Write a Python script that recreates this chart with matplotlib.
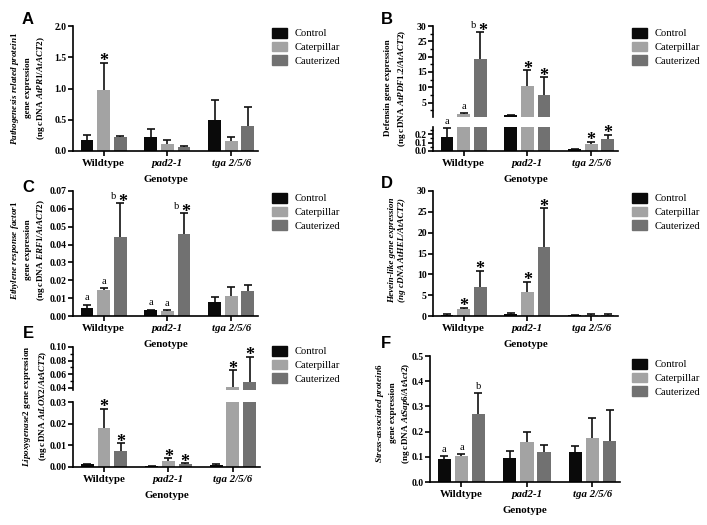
import numpy as np
import matplotlib
matplotlib.use('Agg')
import matplotlib.pyplot as plt
from matplotlib.patches import Patch
from matplotlib.ticker import MultipleLocator, FormatStrFormatter

plt.rcParams['font.family'] = ['Liberation Serif', 'DejaVu Serif']
plt.rcParams['font.weight'] = 'bold'
plt.rcParams['mathtext.fontset'] = 'custom'
plt.rcParams['mathtext.rm'] = 'Liberation Serif:bold'
plt.rcParams['mathtext.it'] = 'Liberation Serif:italic:bold'
plt.rcParams['mathtext.bf'] = 'Liberation Serif:bold'

genotypes = ['Wildtype', 'pad2-1', 'tga 2/5/6']
treatments = ['Control', 'Caterpillar', 'Cauterized']
colors = ['#0a0a0a', '#a3a3a3', '#717171']

# rows: Control, Caterpillar, Cauterized ; columns: genotypes
pr1_mean = [[0.18, 0.23, 0.49], [0.98, 0.12, 0.16], [0.22, 0.06, 0.40]]
pr1_err = [[0.07, 0.12, 0.32], [0.43, 0.05, 0.06], [0.02, 0.015, 0.30]]
pr1_marks = [['', '', ''], ['*', '', ''], ['', '', '']]

pdf_mean = [[0.17, 0.9, 0.02], [1.2, 10.4, 0.08], [19.2, 7.5, 0.14]]
pdf_err = [[0.10, 0.05, 0.0], [0.3, 5.2, 0.03], [8.7, 5.8, 0.05]]
pdf_marks = [['a', '', ''], ['a', '*', '*'], ['b*', '*', '*']]

erf_mean = [[0.0046, 0.0031, 0.0077], [0.0145, 0.0026, 0.0112], [0.0445, 0.0458, 0.0140]]
erf_err = [[0.0018, 0.0005, 0.0031], [0.0011, 0.0005, 0.0050], [0.0187, 0.0117, 0.0035]]
erf_marks = [['a', 'a', ''], ['a', 'a', ''], ['b*', 'b*', '']]

hel_mean = [[0.35, 0.55, 0.2], [1.8, 5.8, 0.35], [7.0, 16.6, 0.3]]
hel_err = [[0.05, 0.1, 0.05], [0.15, 2.4, 0.1], [3.8, 9.2, 0.1]]
hel_marks = [['', '', ''], ['*', '*', ''], ['*', '*', '']]

lox_mean = [[0.0012, 0.0003, 0.0010], [0.0180, 0.0030, 0.0410], [0.0075, 0.0015, 0.0490]]
lox_err = [[0.0002, 0.0001, 0.0002], [0.0090, 0.0010, 0.0250], [0.0035, 0.0003, 0.0370]]
lox_marks = [['', '', ''], ['*', '*', '*'], ['*', '*', '*']]

sap_mean = [[0.093, 0.097, 0.120], [0.103, 0.160, 0.175], [0.268, 0.120, 0.162]]
sap_err = [[0.010, 0.028, 0.023], [0.008, 0.040, 0.078], [0.085, 0.025, 0.125]]
sap_marks = [['a', '', ''], ['a', '', ''], ['b', '', '']]

W, H = 707, 525
fig = plt.figure(figsize=(W / 100, H / 100), dpi=100)

def rect(l, r, t, b):
    return [l / W, 1 - b / H, (r - l) / W, (b - t) / H]

x = np.arange(3)
offsets = [-0.26, 0, 0.26]
width = 0.2


def draw(ax, mean, err, marks, ylim):
    ax.set_ylim(*ylim)
    for i in range(3):
        xs = x + offsets[i]
        ax.bar(xs, mean[i], width, color=colors[i], zorder=2)
        cont = ax.errorbar(xs, mean[i], yerr=[np.zeros(3), err[i]], fmt='none',
                           ecolor='#111111', elinewidth=1.2, capsize=2.8, capthick=1.2,
                           zorder=1)
        # keep only upper caps that fall inside this axis
        for cap in cont[1]:
            y = np.asarray(cap.get_ydata(), dtype=float)
            if np.allclose(y, mean[i]):
                cap.remove()
                continue
            cap.set_ydata(np.where((y < ylim[0]) | (y > ylim[1]), np.nan, y))
        for j in range(3):
            top = mean[i][j] + err[i][j]
            m = marks[i][j]
            if not m or not (ylim[0] <= top <= ylim[1]):
                continue
            letter = m.replace('*', '')
            if '*' in m:
                ax.annotate('*', (xs[j], top), xytext=(1.5 if letter else 0, -2.5),
                            textcoords='offset points', ha='center', va='baseline',
                            fontsize=13, fontweight='bold', annotation_clip=False)
            if letter:
                ax.annotate(letter, (xs[j], top), xytext=(-5 if '*' in m else 0, 1.5),
                            textcoords='offset points', ha='center', va='bottom',
                            fontsize=7.5, fontweight='normal', annotation_clip=False)


def style(ax, bottom=True, xlabel=True):
    ax.patch.set_visible(False)
    for s in ['top', 'right']:
        ax.spines[s].set_visible(False)
    ax.spines['left'].set_linewidth(1.2)
    ax.tick_params(axis='y', which='major', length=3.5, width=1.2, labelsize=7, pad=1)
    ax.tick_params(axis='y', which='minor', length=2, width=1.0)
    ax.set_xlim(-0.48, 2.42)
    if bottom:
        ax.spines['bottom'].set_linewidth(1.2)
        ax.set_xticks(x)
        ax.set_xticklabels(genotypes)
        for k, lab in enumerate(ax.get_xticklabels()):
            if k > 0:
                lab.set_fontstyle('italic')
        ax.tick_params(axis='x', length=3.5, width=1.2, labelsize=7.8, pad=2)
        if xlabel:
            ax.set_xlabel('Genotype', fontsize=7.8, fontweight='bold', labelpad=5)
    else:
        ax.spines['bottom'].set_visible(False)
        ax.set_xticks([])


def legend(xp, yp):
    handles = [Patch(color=c) for c in colors]
    fig.legend(handles, treatments, loc='upper left', bbox_to_anchor=(xp / W, 1 - yp / H),
               frameon=False, prop={'size': 7.6, 'weight': 'normal'}, handlelength=1.45,
               handleheight=1.05, labelspacing=0.3, handletextpad=0.65,
               borderpad=0, borderaxespad=0)


def ylabel(xp, yp, s, **kw):
    fig.text(xp / W, 1 - yp / H, s, rotation=90, ha='center', va='center',
             fontsize=6.6, linespacing=1.45, multialignment='center', **kw)


def panel(xp, yp, s):
    fig.text(xp / W, 1 - yp / H, s, fontsize=12, fontweight='bold',
             family='Liberation Sans', ha='center', va='center')

# A
ax = fig.add_axes(rect(73, 258, 26, 151))
draw(ax, pr1_mean, pr1_err, pr1_marks, (0, 2.0))
ax.set_yticks(np.arange(0, 2.01, 0.5))
ax.yaxis.set_major_formatter(FormatStrFormatter('%.1f'))
style(ax)
legend(272, 28)
ylabel(28, 88, '$\\mathit{Pathogenesis\\ related\\ protein1}$\ngene expression\n'
       '(ng cDNA $\\mathit{AtPR1/AtACT2}$)')
panel(28, 20, 'A')

# B (broken axis)
axu = fig.add_axes(rect(433, 618, 26, 117))
draw(axu, pdf_mean, pdf_err, pdf_marks, (0.3, 30))
axu.set_yticks([5, 10, 15, 20, 25, 30])
axu.yaxis.set_minor_locator(MultipleLocator(2.5))
style(axu, bottom=False)
axl = fig.add_axes(rect(433, 618, 127, 151))
draw(axl, pdf_mean, pdf_err, pdf_marks, (0, 0.285))
axl.set_yticks([0.0, 0.1, 0.2])
axl.yaxis.set_minor_locator(MultipleLocator(0.05))
axl.yaxis.set_major_formatter(FormatStrFormatter('%.1f'))
style(axl)
legend(632, 28)
ylabel(396, 88, 'Defensin gene expression\n(ng cDNA $\\mathit{AtPDF1.2/AtACT2}$)')
panel(387, 20, 'B')

# C
ax = fig.add_axes(rect(73, 258, 191, 316))
draw(ax, erf_mean, erf_err, erf_marks, (0, 0.07))
ax.set_yticks(np.arange(0, 0.0701, 0.01))
ax.yaxis.set_major_formatter(FormatStrFormatter('%.2f'))
style(ax)
legend(272, 193)
ylabel(28, 250, '$\\mathit{Ethylene\\ response\\ factor1}$\ngene expression\n'
       '(ng cDNA $\\mathit{ERF1/AtACT2}$)')
panel(28, 187, 'C')

# D
ax = fig.add_axes(rect(433, 618, 191, 316))
draw(ax, hel_mean, hel_err, hel_marks, (0, 30))
ax.set_yticks(np.arange(0, 31, 5))
style(ax)
legend(632, 193)
ylabel(397, 250, 'Hevein-like gene expression\n(ng cDNA AtHEL/AtACT2)', fontstyle='italic')
panel(387, 184, 'D')

# E (broken axis)
axu = fig.add_axes(rect(73, 260, 347, 390))
draw(axu, lox_mean, lox_err, lox_marks, (0.037, 0.10))
axu.set_yticks([0.04, 0.06, 0.08, 0.10])
axu.yaxis.set_minor_locator(MultipleLocator(0.01))
axu.yaxis.set_major_formatter(FormatStrFormatter('%.2f'))
style(axu, bottom=False)
axl = fig.add_axes(rect(73, 260, 402, 467))
draw(axl, lox_mean, lox_err, lox_marks, (0, 0.03))
axl.set_yticks([0.0, 0.01, 0.02, 0.03])
axl.yaxis.set_major_formatter(FormatStrFormatter('%.2f'))
style(axl)
legend(272, 346)
ylabel(35, 406, '$\\mathit{Lipoxygenase2}$ gene expression\n(ng cDNA $\\mathit{AtLOX2/AtACT2}$)')
panel(28, 333, 'E')

# F
ax = fig.add_axes(rect(430, 620, 356, 482))
draw(ax, sap_mean, sap_err, sap_marks, (0, 0.5))
ax.set_yticks(np.arange(0, 0.501, 0.1))
ax.yaxis.set_major_formatter(FormatStrFormatter('%.1f'))
style(ax)
legend(632, 359)
ylabel(393, 413, '$\\mathit{Stress}$-$\\mathit{associated\\ protein6}$\ngene expression\n'
       '(ng cDNA $\\mathit{AtSap6/AtAct2}$)')
panel(386, 344, 'F')

fig.savefig('out.png', dpi=100)
